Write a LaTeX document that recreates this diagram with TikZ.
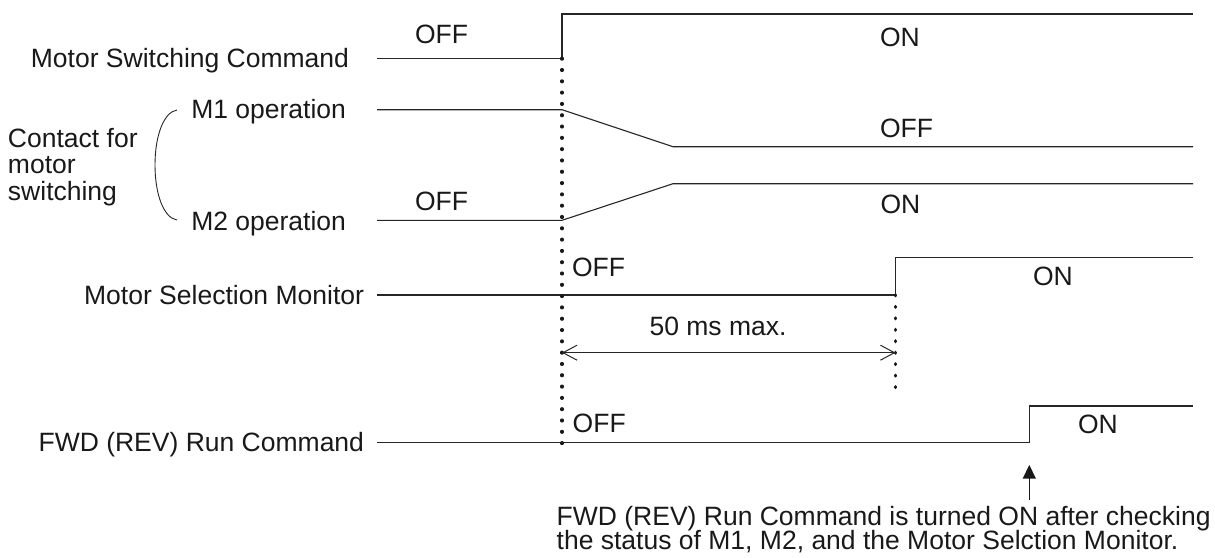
\documentclass[tikz,border=0pt]{standalone}
\usepackage{fontspec}
\setmainfont{Liberation Sans}
\usetikzlibrary{arrows.meta}
\begin{document}
\begin{tikzpicture}[x=1pt,y=-1pt,
  sig/.style={line width=1.1pt, draw=black!85, line join=miter},
  lbl/.style={inner sep=0pt, outer sep=0pt, font=\fontsize{26.5}{26.3}\selectfont, text=black!90},
  dotline/.style={line width=3.3pt, line cap=round, draw=black!90},
  dimarrow/.style={line width=1pt, draw=black!85, {Straight Barb[length=14pt,width=15pt]}-{Straight Barb[length=14pt,width=15pt]}},
  uparrow/.style={line width=1.1pt, draw=black!90, -{Triangle[length=13.5pt,width=13pt]}},
]
\useasboundingbox (0,0) rectangle (1215,557);

% signal names
\node[lbl, anchor=base east] (msc) at (349,67.5) {Motor Switching Command};
\node[lbl, anchor=base east] (m1) at (346,118) {M1 operation};
\node[lbl, anchor=base east] (m2) at (346,230.5) {M2 operation};
\node[lbl, anchor=base east] (msm) at (364,304) {Motor Selection Monitor};
\node[lbl, anchor=base east] (fwd) at (364,451) {FWD (REV) Run Command};
\node[lbl, anchor=base west, align=left] (contact) at (8,200) {Contact for\\motor\\switching};

% brace
\coordinate (bt) at (177,110);
\coordinate (bm) at (155,165);
\coordinate (bb) at (177,220);
\draw[line width=0.9pt, draw=black!85] (bt) .. controls (164,112) and (155,135) .. (bm) .. controls (155,195) and (164,218) .. (bb);

% coordinates
\coordinate (s1a) at (377,58.3);
\coordinate (s1b) at (562,58.3);
\coordinate (s1c) at (562,14);
\coordinate (s1d) at (1193,14);
\coordinate (s2a) at (377,109.7);
\coordinate (s2b) at (562,109.7);
\coordinate (s2c) at (673,146.7);
\coordinate (s2d) at (1193,146.7);
\coordinate (s3a) at (377,220.3);
\coordinate (s3b) at (562,220.3);
\coordinate (s3c) at (673,183.7);
\coordinate (s3d) at (1193,183.7);
\coordinate (s4a) at (377,295);
\coordinate (s4b) at (895.5,295);
\coordinate (s4c) at (895.5,257.7);
\coordinate (s4d) at (1193,257.7);
\coordinate (s5a) at (377,442.7);
\coordinate (s5b) at (1029.3,442.7);
\coordinate (s5c) at (1029.3,406);
\coordinate (s5d) at (1193,406);
\coordinate (d1b) at (562,443.5);
\coordinate (d2b) at (895.5,387.5);
\coordinate (al) at (562,352.7);
\coordinate (ar) at (895.5,352.7);
\coordinate (ub) at (1029.3,500);
\coordinate (ut) at (1029.3,465);

% signals
\draw[sig] (s1a) -- (s1b) -- (s1c) -- (s1d);
\draw[sig] (s2a) -- (s2b) -- (s2c) -- (s2d);
\draw[sig] (s3a) -- (s3b) -- (s3c) -- (s3d);
\draw[sig] (s4a) -- (s4b) -- (s4c) -- (s4d);
\draw[sig] (s5a) -- (s5b) -- (s5c) -- (s5d);

% dotted lines
\draw[dotline, dash pattern=on 0.8pt off 10.506pt] (s1b) -- (d1b);
\draw[dotline, dash pattern=on 0.8pt off 10.663pt] (s4b) -- (d2b);

% arrows
\draw[dimarrow] (al) -- (ar);
\draw[uparrow] (ub) -- (ut);

% state labels
\node[lbl, anchor=base west] (off1) at (415,43.3) {OFF};
\node[lbl, anchor=base west] (on1) at (880,46.7) {ON};
\node[lbl, anchor=base west] (off2) at (880,137.3) {OFF};
\node[lbl, anchor=base west] (off3) at (415,210.7) {OFF};
\node[lbl, anchor=base west] (on3) at (880.5,213.3) {ON};
\node[lbl, anchor=base west] (off4) at (572,276) {OFF};
\node[lbl, anchor=base west] (on4) at (1033,285) {ON};
\node[lbl, anchor=base west] (dim) at (649.6,335) {50 ms max.};
\node[lbl, anchor=base west] (off5) at (572.7,432.7) {OFF};
\node[lbl, anchor=base west] (on5) at (1078,433.3) {ON};

% note
\node[lbl, anchor=base west] (note1) at (556.7,525) {FWD (REV) Run Command is turned ON after checking};
\node[lbl, anchor=base west] (note2) at (556.7,549.5) {the status of M1, M2, and the Motor Selction Monitor.};
\end{tikzpicture}
\end{document}
